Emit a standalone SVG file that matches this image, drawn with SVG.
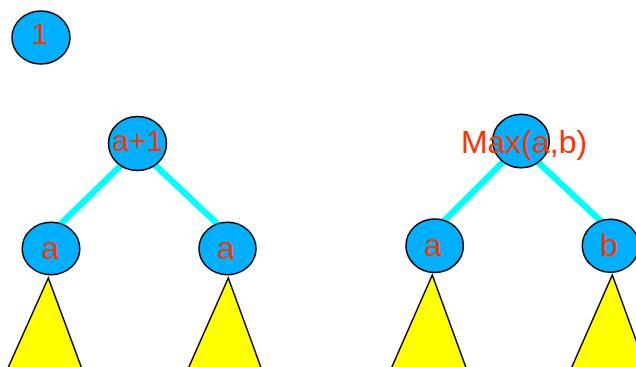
<svg xmlns="http://www.w3.org/2000/svg" width="636" height="367" viewBox="0 0 636 367">
<style>
.node{fill:#00B0FF;stroke:#000;stroke-width:1.5}
.lbl{font-family:"Liberation Sans",Arial,sans-serif;font-size:30px;fill:#FF3300;text-anchor:middle}
.big{font-size:32px}
.edge{stroke:#00FFFF;stroke-width:6.5;fill:none}
.tri{fill:#FFFF00;stroke:#000;stroke-width:1.5}
</style>
<rect width="636" height="367" fill="#fff"/>
<g id="subtrees">
<polygon class="tri" points="48.3,278 7.5,369 82,369"/>
<polygon class="tri" points="228.3,278 188,369 261.5,369"/>
<polygon class="tri" points="432.3,275 391,369 466.5,369"/>
<polygon class="tri" points="612.3,275 571,369 646.5,369"/>
</g>
<g id="connectors">
<line class="edge" x1="125" y1="161.5" x2="58" y2="226.5"/>
<line class="edge" x1="149.7" y1="160" x2="221.7" y2="228"/>
<line class="edge" x1="508" y1="157" x2="442" y2="223"/>
<line class="edge" x1="533" y1="157.5" x2="604" y2="224"/>
</g>
<g id="node-1">
<ellipse class="node" cx="41" cy="37.5" rx="29" ry="26.5"/>
<text class="lbl" x="40" y="44">1</text>
</g>
<g id="node-a1">
<ellipse class="node" cx="137.5" cy="143.5" rx="29" ry="27"/>
<text class="lbl" x="137.7" y="150.5">a+1</text>
</g>
<g id="node-a-left">
<ellipse class="node" cx="51" cy="248.5" rx="28.8" ry="26.2"/>
<text class="lbl big" x="50.5" y="258.5">a</text>
</g>
<g id="node-a-right">
<ellipse class="node" cx="227.5" cy="248.5" rx="28.5" ry="26.2"/>
<text class="lbl big" x="226" y="258.5">a</text>
</g>
<g id="node-max">
<ellipse class="node" cx="521" cy="141" rx="28.3" ry="26.7"/>
<text class="lbl big" x="524" y="153">Max(a,b)</text>
</g>
<g id="node-a2">
<ellipse class="node" cx="434.7" cy="245.7" rx="28.7" ry="26.7"/>
<text class="lbl big" x="433" y="256">a</text>
</g>
<g id="node-b">
<ellipse class="node" cx="610.5" cy="245.8" rx="28.2" ry="26.5"/>
<text class="lbl big" x="609" y="255.5">b</text>
</g>
</svg>
